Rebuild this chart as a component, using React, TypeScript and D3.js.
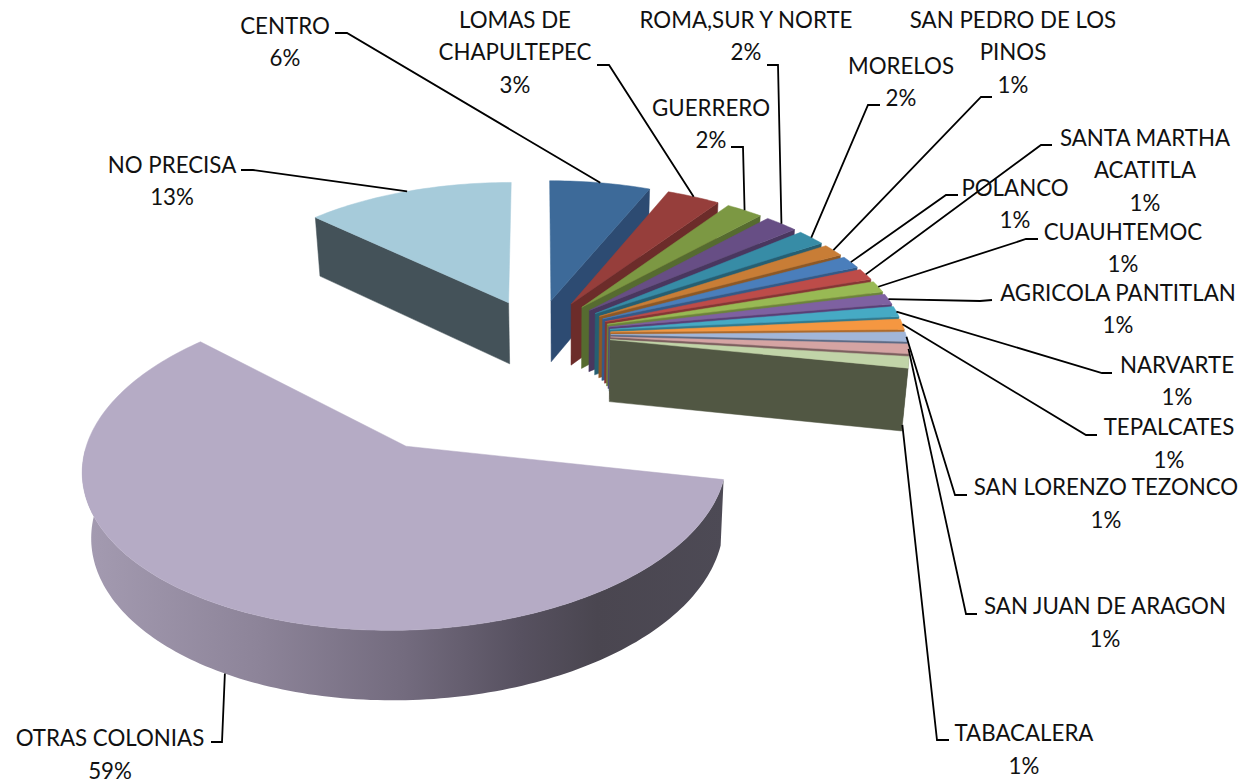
import React from "react";
import * as d3 from "d3";

// ---- data ----
const colonias = ["CENTRO","LOMAS DE CHAPULTEPEC","GUERRERO","ROMA,SUR Y NORTE","MORELOS","SAN PEDRO DE LOS PINOS","POLANCO","SANTA MARTHA ACATITLA","CUAUHTEMOC","AGRICOLA PANTITLAN","NARVARTE","TEPALCATES","SAN LORENZO TEZONCO","SAN JUAN DE ARAGON","TABACALERA","OTRAS COLONIAS","NO PRECISA"];
const porcentajes = [6.2,3.3,2.3,2.1,1.8,1.4,1.4,1.3,1.3,1.2,1.2,1.2,1.1,1.1,1.3,58.9,12.9];

// ---- styles ----
const topFill = ["#3d6a99","#963e3b","#7c9843","#674e85","#378ca6","#c87d36","#4a7ebb","#bd4c49","#98b954","#7e61a1","#46aac4","#f59741","#a1b6d9","#d5a4a3","#c1d4a8","#b5abc5","#a6cbda"];
const sideFill = ["#2d4b72","#6c2c2a","#566b30","#49375f","#265f72","#8e5825","#345a88","#853634","#6c843b","#593f76","#317a8e","#ad6a2c","#5c6a85","#7d5f5f","#515743","url(#rim)","#445259"];

// label layout: centre x and baselines, then the elbow of the leader
const labelLines: string[][] = [["CENTRO"],["LOMAS DE","CHAPULTEPEC"],["GUERRERO"],["ROMA,SUR Y NORTE"],["MORELOS"],["SAN PEDRO DE LOS","PINOS"],["POLANCO"],["SANTA MARTHA","ACATITLA"],["CUAUHTEMOC"],["AGRICOLA PANTITLAN"],["NARVARTE"],["TEPALCATES"],["SAN LORENZO TEZONCO"],["SAN JUAN DE ARAGON"],["TABACALERA"],["OTRAS COLONIAS"],["NO PRECISA"]];
const labelX = [285,515,711,746,901,1013,1015,1145,1123,1118,1177,1169,1106,1105,1024,110,172];
const labelY = [33.5,27.5,115.5,27.5,73.5,27.5,195.5,145.5,239.5,300.5,372.7,435,495,614,741,746,172.5];
const lineH = 32.7;
const elbowStart: [number,number][] = [[335,33],[597,65],[731,147],[767,65],[880,105],[992,97],[958,195],[1052,145],[1038,239],[992,300],[1112,373],[1097,435],[967,495],[977,614],[949,740],[211,742],[241,170]];
const elbowMid: [number,number][] = [[347,33],[609,65],[743,147],[778,65],[868,105],[981,97],[946,195],[1041,145],[1026,239],[980,301],[1102,373],[1086,435],[955,495],[966,614],[937,740],[222,742],[253,170]];

// ---- projection of the pie plane on the page ----
const Cx = 537, Cy = 334, F = 295, G = 139, K = 0.104;
const project = (u: number, v: number): [number,number] => {
  const w = 1 - K * v;
  return [Cx + F * u / w, Cy + G * v / w];
};
const VX = 565, AX = 0.0186, D0 = 62, DY = 0.0274, Y0 = 338;
const drop = ([x, y]: [number,number]): [number,number] => [x + AX * (VX - x), y + D0 + DY * (y - Y0)];

const EXPLODE = 0.25;
const EXPLODE_BIG = 0.85;
const BIG_DIR = (208.8 * Math.PI) / 180;
const BIG_ANCHOR_SHIFT = 0.03;

const arcs = d3.pie<number>().sort(null).value(d => d).startAngle(0).endAngle(2 * Math.PI)(porcentajes);
const bigIndex = porcentajes.indexOf(d3.max(porcentajes) as number);
const line = d3.line();

const slices = arcs.map((a, i) => {
  const mid = (a.startAngle + a.endAngle) / 2;
  const dir = i === bigIndex ? BIG_DIR : mid;
  const e = i === bigIndex ? EXPLODE_BIG : EXPLODE;
  const ou = e * Math.sin(dir), ov = -e * Math.cos(dir);
  const rim = (t: number) => project(ou + Math.sin(t), ov - Math.cos(t));
  const apex = project(ou, ov);
  const n = Math.max(2, Math.ceil((a.endAngle - a.startAngle) / 0.02));
  const ts = d3.range(n + 1).map(j => a.startAngle + ((a.endAngle - a.startAngle) * j) / n);
  const rimPts = ts.map(rim);
  return { i, mid, apex, rim, rimPts, ts, a };
});

export default function App() {
  return (
    <svg width={1253} height={783} style={{ position: "absolute", left: 0, top: 0, background: "#fff" }} fontFamily="Lato, Carlito, sans-serif">
      <defs>
        <linearGradient id="rim" gradientUnits="userSpaceOnUse" x1={85} x2={725} y1={0} y2={0}>
          <stop offset="0" stopColor="#a49bb1" />
          <stop offset="0.27" stopColor="#8d8499" />
          <stop offset="0.5" stopColor="#736b7e" />
          <stop offset="0.68" stopColor="#575160" />
          <stop offset="0.8" stopColor="#4a4650" />
          <stop offset="1" stopColor="#4d4a55" />
        </linearGradient>
      </defs>
      {slices.map(s => {
        const top = [s.apex, ...s.rimPts];
        const isBack = s.mid > Math.PI * 1.5; // the slice left of 12 o'clock shows its start edge
        const edge: [number,number] = isBack ? s.rimPts[0] : s.rimPts[s.rimPts.length - 1];
        const face: [number,number][] = [s.apex, edge, drop(edge), drop(s.apex)];
        let wall = "";
        for (let j = 0; j + 1 < s.rimPts.length; j++) {
          if (s.ts[j] > Math.PI / 2 && s.ts[j + 1] < Math.PI * 1.5) {
            wall += (line([s.rimPts[j], s.rimPts[j + 1], drop(s.rimPts[j + 1]), drop(s.rimPts[j])]) as string) + "Z";
          }
        }
        return (
          <g key={s.i}>
            {s.i !== bigIndex && <path d={(line(face) as string) + "Z"} fill={sideFill[s.i]} stroke={sideFill[s.i]} strokeWidth={0.5} />}
            {wall && <path d={wall} fill={sideFill[s.i]} />}
            <path d={(line(top) as string) + "Z"} fill={topFill[s.i]} stroke={topFill[s.i]} strokeWidth={0.5} />
          </g>
        );
      })}
      {slices.map(s => {
        const base = s.i === bigIndex ? s.rim(s.mid + BIG_ANCHOR_SHIFT) : s.rim(s.mid);
        const isLowAnchor = s.i === bigIndex || s.i === 14;
        const end = isLowAnchor ? drop(base) : base;
        return (
          <polyline key={s.i} points={[elbowStart[s.i], elbowMid[s.i], end].map(p => p.join(",")).join(" ")} fill="none" stroke="#000" strokeWidth={1.8} />
        );
      })}
      {colonias.map((name, i) => {
        const lines = [...labelLines[i], d3.format(".0f")(porcentajes[i]) + "%"];
        return (
          <text key={name} fontSize={22.3} fill="#111" textAnchor="middle">
            {lines.map((t, j) => (
              <tspan key={j} x={labelX[i]} y={labelY[i] + j * lineH}>{t}</tspan>
            ))}
          </text>
        );
      })}
    </svg>
  );
}
